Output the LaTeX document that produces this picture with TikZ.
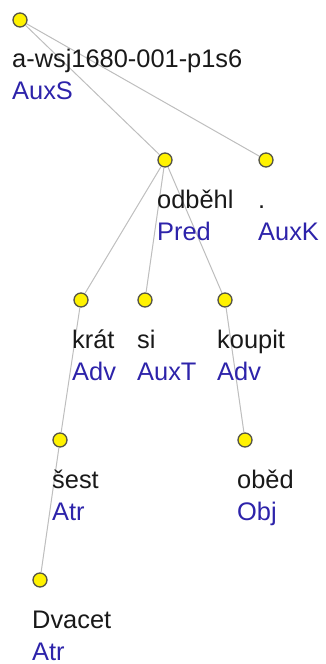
\documentclass[tikz,border=0pt]{standalone}
\usepackage{fontspec}
\setmainfont{Liberation Sans}
\definecolor{fnblue}{RGB}{45,35,170}
\definecolor{edgegray}{RGB}{190,190,190}
\definecolor{dotline}{RGB}{85,85,70}
\begin{document}
\begin{tikzpicture}[x=1pt,y=-1pt,
  dot/.style={circle,fill=yellow,draw=dotline,line width=1.3pt,inner sep=0pt,minimum size=14pt},
  word/.style={anchor=base west,inner sep=0pt,font=\fontsize{25.4}{30}\selectfont,text=black!90},
  fn/.style={anchor=base west,inner sep=0pt,font=\fontsize{25.4}{30}\selectfont,text=fnblue},
  edge/.style={draw=edgegray,line width=1pt}]
\useasboundingbox (0,0) rectangle (325,664);
% dots
\node[dot] (root) at (20,20) {};
\node[dot] (odb) at (165,160) {};
\node[dot] (dot) at (266,160) {};
\node[dot] (krat) at (81,300) {};
\node[dot] (si) at (145,300) {};
\node[dot] (kou) at (225,300) {};
\node[dot] (sest) at (60,440) {};
\node[dot] (obed) at (245,440) {};
\node[dot] (dva) at (40,580) {};
% edges
\draw[edge] (root) -- (odb);
\draw[edge] (root) -- (dot);
\draw[edge] (odb) -- (krat);
\draw[edge] (odb) -- (si);
\draw[edge] (odb) -- (kou);
\draw[edge] (krat) -- (sest);
\draw[edge] (sest) -- (dva);
\draw[edge] (kou) -- (obed);
% labels
\node[word] (rootw) at (12,67) {a-wsj1680-001-p1s6};
\node[fn] (rootf) at (12,99) {AuxS};
\node[word] (odbw) at (157,208) {odběhl};
\node[fn] (odbf) at (157,240) {Pred};
\node[word] (dotw) at (258,208) {.};
\node[fn] (dotf) at (258,240) {AuxK};
\node[word] (kratw) at (72,348) {krát};
\node[fn] (kratf) at (72,380) {Adv};
\node[word] (siw) at (137,348) {si};
\node[fn] (sif) at (137,380) {AuxT};
\node[word] (kouw) at (217,348) {koupit};
\node[fn] (kouf) at (217,380) {Adv};
\node[word] (sestw) at (52,488) {šest};
\node[fn] (sestf) at (52,520) {Atr};
\node[word] (obedw) at (237,488) {oběd};
\node[fn] (obedf) at (237,520) {Obj};
\node[word] (dvaw) at (32,628) {Dvacet};
\node[fn] (dvaf) at (32,660) {Atr};
\end{tikzpicture}
\end{document}
